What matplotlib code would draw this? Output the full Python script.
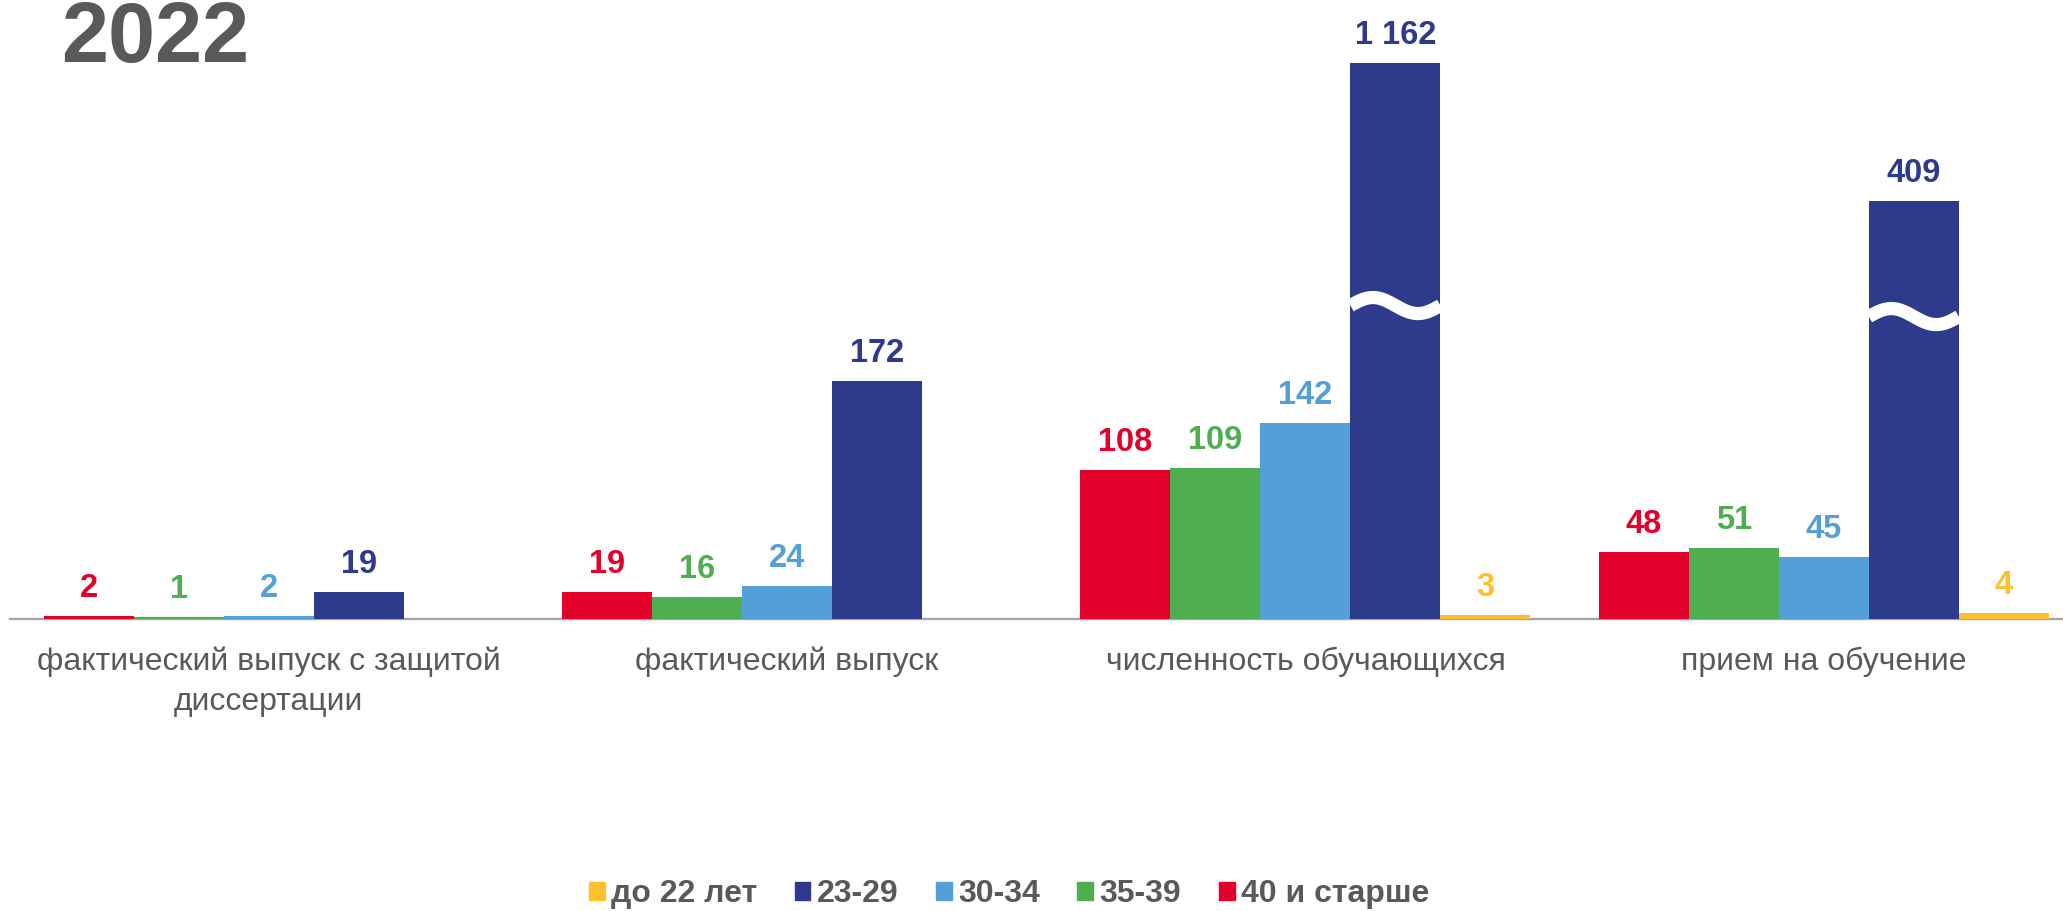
import numpy as np
import matplotlib
matplotlib.use("Agg")
import matplotlib.pyplot as plt
from matplotlib.patches import Patch
from matplotlib.transforms import blended_transform_factory

plt.rcParams["font.family"] = ["Liberation Sans", "DejaVu Sans"]

# data
categories = ["фактический выпуск с защитой\nдиссертации", "фактический выпуск",
              "численность обучающихся", "прием на обучение"]
series = ["40 и старше", "35-39", "30-34", "23-29", "до 22 лет"]
v_40plus = [2, 19, 108, 48]
v_35_39 = [1, 16, 109, 51]
v_30_34 = [2, 24, 142, 45]
v_23_29 = [19, 172, 1162, 409]
v_to22 = [0, 0, 3, 4]
values = [v_40plus, v_35_39, v_30_34, v_23_29, v_to22]
colors = ["#E3012B", "#4FAE50", "#53A0D8", "#2E3A8B", "#FFC12B"]
GRAY = "#595959"

# compressed y scale above this value (bars with huge values get broken)
T_COMP, K_COMP = 286.3, 0.1327


def fwd(v):
    v = np.asarray(v, dtype=float)
    return np.where(v <= T_COMP, v, T_COMP + (v - T_COMP) * K_COMP)


def inv(d):
    d = np.asarray(d, dtype=float)
    return np.where(d <= T_COMP, d, T_COMP + (d - T_COMP) / K_COMP)


W, H = 2063, 911
fig = plt.figure(figsize=(W / 100, H / 100), dpi=100)
ax = fig.add_axes([9.5 / W, 292.3 / H, 2073.5 / W, 607 / H])
ax.set_yscale("function", functions=(fwd, inv))
ax.set_ylim(0, float(inv(440)))
ax.set_xlim(-0.5, 3.5)

x = np.arange(len(categories))
bw = 90 / 518.5
for i, (vals, c) in enumerate(zip(values, colors)):
    xs = x + (i - 2) * bw
    ax.bar(xs, vals, width=bw, color=c, linewidth=0, zorder=2)
    for xx, v in zip(xs, vals):
        if v == 0:
            continue
        ax.annotate(f"{v:,}".replace(",", " "), xy=(xx, v), xytext=(0, 13.7),
                    textcoords="offset points", ha="center", va="baseline",
                    fontsize=23.5, fontweight="bold", color=c)

# wavy break marks on the tall bars
break_y = {2: 227, 3: 219}
for gi, yb in break_y.items():
    x0 = x[gi] + 1 * bw - bw / 2
    t = np.linspace(0, 1, 100)
    ax.plot(x0 + t * bw, yb + 5.8 * np.sin(2 * np.pi * t), color="white",
            lw=9.5, solid_capstyle="butt", zorder=3)

for s in ["top", "right", "left"]:
    ax.spines[s].set_visible(False)
ax.spines["bottom"].set_color("#A6A6A6")
ax.spines["bottom"].set_linewidth(1.7)
ax.spines["bottom"].set_zorder(1)
ax.set_yticks([])
ax.set_xticks([])
ax.minorticks_off()

tr = blended_transform_factory(ax.transData, fig.transFigure)
for xi, lab in zip(x, categories):
    for li, line in enumerate(lab.split("\n")):
        ax.text(xi, 1 - (670 + 40 * li) / H, line, transform=tr, ha="center",
                va="baseline", fontsize=23, color=GRAY)

fig.text(61 / W, 1 - 62 / H, "2022", ha="left", va="baseline", fontsize=61,
         fontweight="bold", color=GRAY)

handles = [Patch(color=c, label=s) for s, c in zip(series, colors)][::-1]
fig.legend(handles=handles, loc="center", bbox_to_anchor=(1009 / W, 17 / H),
           ncol=5, frameon=False, handlelength=0.5, handleheight=0.5,
           handletextpad=0.2, columnspacing=1.17, borderpad=0,
           prop={"size": 23, "weight": "bold"}, labelcolor=GRAY)

fig.savefig("out.png", dpi=100)
